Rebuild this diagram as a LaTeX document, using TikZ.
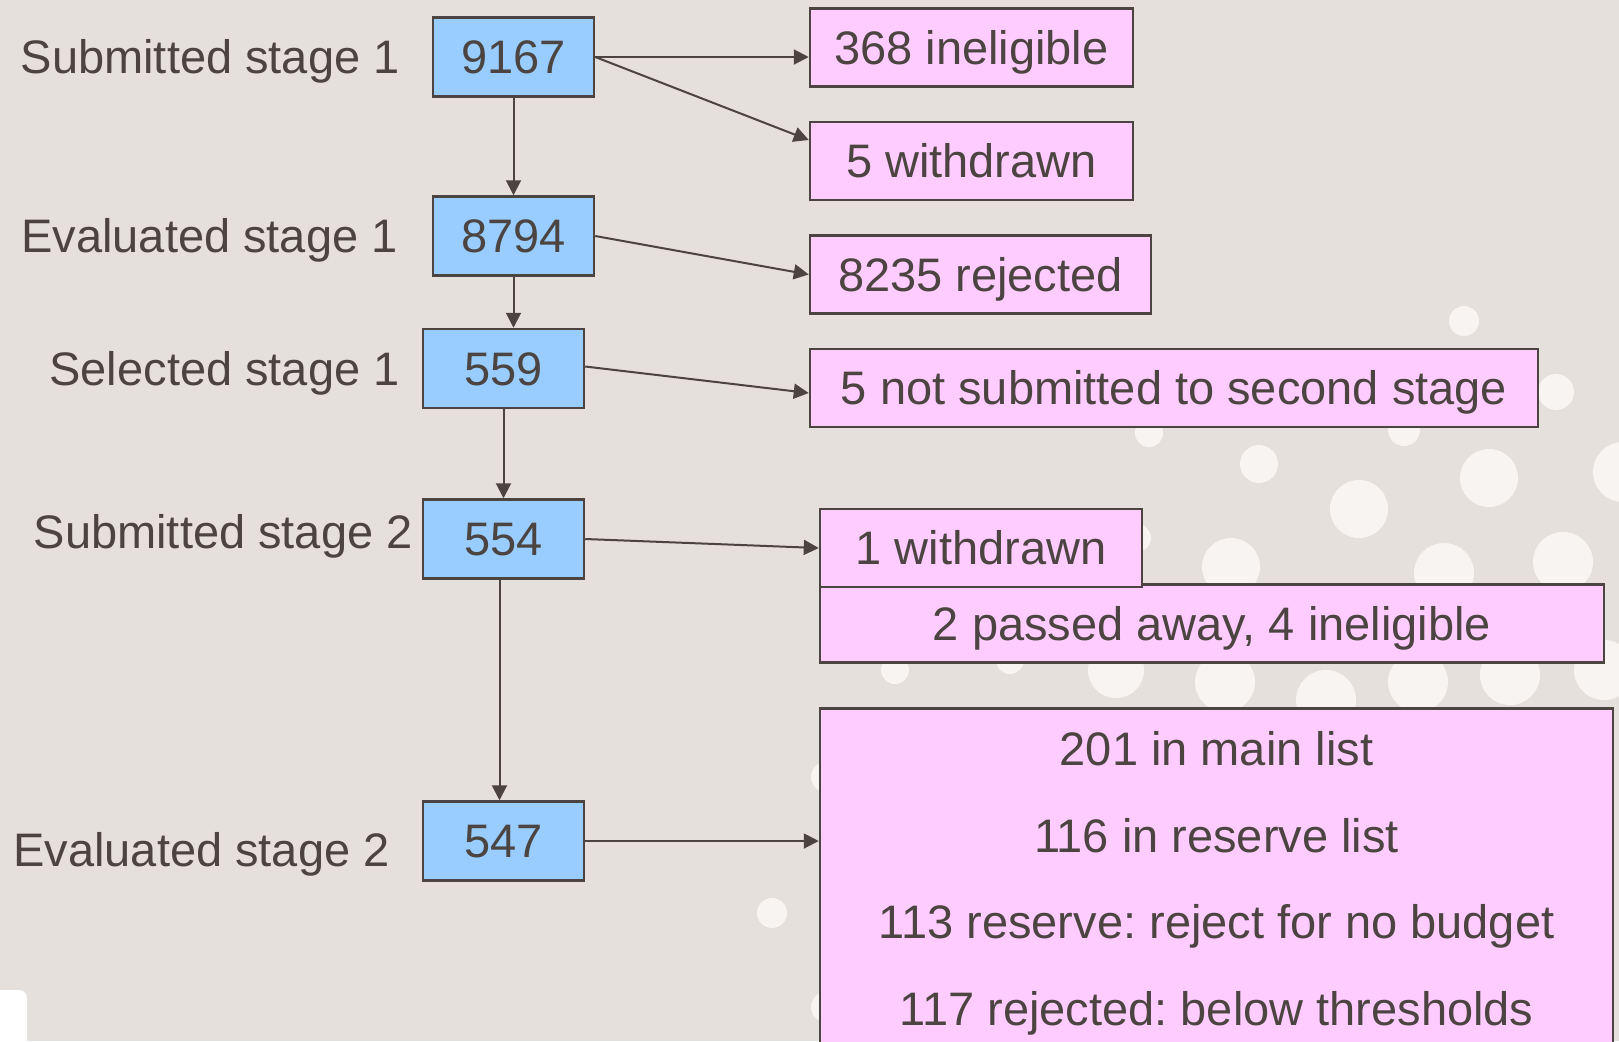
\documentclass[tikz,border=0pt]{standalone}
\usepackage{fontspec}
\setmainfont{Liberation Sans}
\usepackage{tikz}
\usetikzlibrary{positioning, arrows.meta, calc}
\definecolor{slidebg}{HTML}{E5E0DC}
\definecolor{dotcol}{HTML}{F7F4F2}
\definecolor{inkcol}{HTML}{4B4441}
\definecolor{stagecol}{HTML}{99CCFF}
\definecolor{outcol}{HTML}{FFCCFF}
\newcommand{\BigText}{\fontsize{23.5pt}{28pt}\selectfont\frenchspacing}
\tikzset{
    boxbase/.style={draw=inkcol, line width=1.25pt, text=inkcol, inner sep=0pt, font=\BigText},
    stage/.style={boxbase, fill=stagecol, minimum width=80.5pt, minimum height=39.5pt,
      text height=16.9pt, text depth=0pt},
    outcome/.style={boxbase, fill=outcol, minimum height=39pt, text height=16.9pt, text depth=0pt},
    stagename/.style={text=inkcol, anchor=east, inner sep=0pt, font=\BigText,
      text height=16.9pt, text depth=0pt},
    flow/.style={draw=inkcol, line width=1pt, -{Triangle[length=7.5pt, width=7.5pt]}},
}

\begin{document}
\begin{tikzpicture}[x=0.5pt, y=-0.5pt]
    \useasboundingbox (0,0) rectangle (1619,1041);
    \fill[slidebg] (0,0) rectangle (1619,1041);

    \foreach \px/\py/\r in {1464/321/15, 1556/392/18, 1149/433/14, 1404/430/16, 1259/464/19,
        1359/509/29, 1489/478/29, 1623/472/30, 1231/567/29, 1444/573/30, 1563/562/30,
        1137/538/14, 895/670/14, 1010/660/14, 1116/670/28, 1225/682/30, 1326/700/30,
        1418/682/30, 1510/675/30, 1604/670/30, 772/913/15, 826/777/15, 826/1007/15}
      \fill[dotcol] (\px,\py) circle[radius=\r*0.5pt];
    \fill[white, rounded corners=4pt] (-10,990) rectangle (27,1060);

    \node[stage] (sub1) at (513.5,57) {9167};
    \node[stage] (eval1) at (513.5,236) {8794};
    \node[stage] (sel1) at (503.5,368.5) {559};
    \node[stage] (sub2) at (503.5,539) {554};
    \node[stage] (eval2) at (503.5,841) {547};

    \node[stagename] (lsub1) at (400,57) {Submitted stage 1};
    \node[stagename] (leval1) at (398,236) {Evaluated stage 1};
    \node[stagename] (lsel1) at (400,369) {Selected stage 1};
    \node[stagename] (lsub2) at (413,532) {Submitted stage 2};
    \node[stagename] (leval2) at (390,850) {Evaluated stage 2};

    \node[outcome, minimum width=161.5pt] (inel1) at (971.5,47.5) {368 ineligible};
    \node[outcome, minimum width=161.5pt] (wd1) at (971.5,161) {5 withdrawn};
    \node[outcome, minimum width=170.5pt] (rej1) at (980.5,274.5) {8235 rejected};
    \node[outcome, minimum width=364pt] (nosub) at (1174,388) {5 not submitted to second stage};
    \node[outcome, minimum width=392pt] (gone2) at (1212,623.5) {2 passed away, 4 ineligible};
    \node[outcome, minimum width=161pt] (wd2) at (981,548) {1 withdrawn};
    \node[boxbase, fill=outcol, align=center, anchor=north, minimum width=396.5pt,
      minimum height=175pt, font=\fontsize{23.5pt}{43.3pt}\selectfont\frenchspacing] (result) at (1216.5,707)
      {201 in main list\\116 in reserve list\\113 reserve: reject for no budget\\117 rejected: below thresholds};

    \draw[flow] (sub1.south) -- (eval1.north);
    \draw[flow] (eval1.south) -- (eval1.south |- sel1.north);
    \draw[flow] (sel1.south) -- (sub2.north);
    \draw[flow] ([xshift=-2pt]sub2.south) -- ([xshift=-2pt]eval2.north);

    \draw[flow] (sub1.east) -- (sub1.east -| inel1.west);
    \draw[flow] (sub1.east) -- ([yshift=10.5pt]wd1.west);
    \draw[flow] (eval1.east) -- (rej1.west);
    \draw[flow] ([yshift=1pt]sel1.east) -- ([yshift=-2.5pt]nosub.west);
    \draw[flow] (sub2.east) -- (wd2.west);
    \draw[flow] (eval2.east) -- (eval2.east -| result.west);
\end{tikzpicture}
\end{document}
